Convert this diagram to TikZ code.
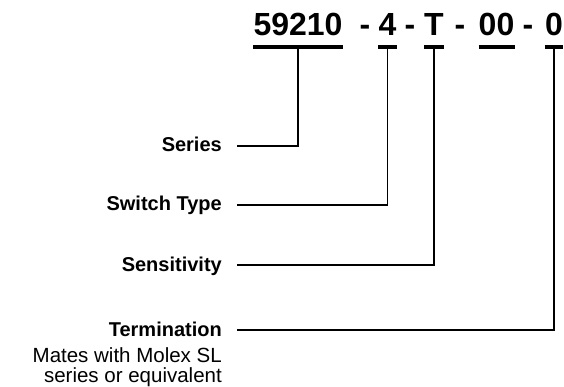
\documentclass[tikz,border=0pt]{standalone}
\usepackage{fontspec}
\setmainfont{Liberation Sans}
\usetikzlibrary{positioning}

\begin{document}
\begin{tikzpicture}[
  x=1pt, y=-1pt,                                % pixel-like grid, y runs down
  code/.style={font=\bfseries\fontsize{32}{32}\selectfont, inner sep=0pt, anchor=base},
  fieldlabel/.style={font=\bfseries\fontsize{20}{20}\selectfont, inner sep=0pt,
                     anchor=east, text height=12pt, text depth=0pt},
  note/.style={font=\fontsize{20.5}{20}\selectfont, inner sep=0pt, align=right,
               anchor=north east},
  bar/.style={line width=4pt},
  lead/.style={line width=1.8pt, shorten <=15pt}
]
  \useasboundingbox (0,0) rectangle (564,387);

  % --- part number, one node per field ---
  \node[code] (ser) at (298,36)   {59210};
  \node[code] (d1)  at (365,36)   {-};
  \node[code] (typ) at (387.5,36) {4};
  \node[code] (d2)  at (410,36)   {-};
  \node[code] (sen) at (434,36)   {T};
  \node[code] (d3)  at (460,36)   {-};
  \node[code] (opt) at (496.5,36) {00};
  \node[code] (d4)  at (528,36)   {-};
  \node[code] (trm) at (554,36)   {0};

  % underline bars under each field
  \foreach \p in {ser,typ,sen,opt,trm}
    \draw[bar] ([yshift=-11pt]\p.base west) -- ([yshift=-11pt]\p.base east);

  % --- field names, right aligned ---
  \node[fieldlabel] (lser) at (222,146) {Series};
  \node[fieldlabel] (ltyp) at (222,205) {Switch Type};
  \node[fieldlabel] (lsen) at (222,265) {Sensitivity};
  \node[fieldlabel] (ltrm) at (222,330) {Termination};
  \node[note] (mates) at ([yshift=-11.5pt]ltrm.south east)
    {Mates with Molex SL\\series or equivalent};

  % --- leaders ---
  \draw[lead] (lser.east) -| ([yshift=-11pt]ser.base);
  \draw[lead] (ltyp.east) -| ([yshift=-11pt]typ.base);
  \draw[lead] (lsen.east) -| ([yshift=-11pt]sen.base);
  \draw[lead] (ltrm.east) -| ([yshift=-11pt]trm.base);

\end{tikzpicture}
\end{document}
